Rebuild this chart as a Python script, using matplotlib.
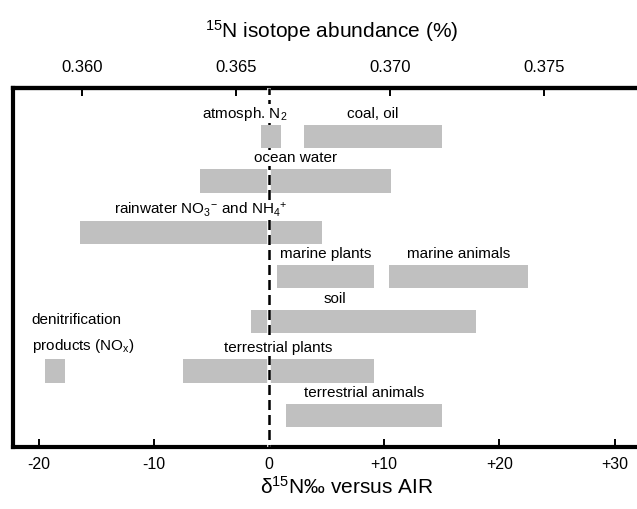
import matplotlib
matplotlib.use("Agg")
import matplotlib.pyplot as plt
import numpy as np

plt.rcParams['font.family'] = ['Liberation Sans', 'DejaVu Sans']
plt.rcParams['mathtext.fontset'] = 'custom'
plt.rcParams['mathtext.rm'] = 'Liberation Sans'
plt.rcParams['mathtext.it'] = 'Liberation Sans:italic'
plt.rcParams['mathtext.bf'] = 'Liberation Sans:bold'

# delta 15N ranges (permil vs AIR) of the nitrogen sources
sources = ["atmosph. N$_2$", "coal, oil", "ocean water",
           "rainwater NO$_3$$^{-}$ and NH$_4$$^{+}$", "marine plants", "marine animals",
           "soil", "denitrification\nproducts (NO$_\\mathrm{x}$)",
           "terrestrial plants", "terrestrial animals"]
lo = np.array([-0.7, 3.0, -6.0, -16.4, 0.7, 10.4, -1.6, -19.4, -7.5, 1.5])
hi = np.array([1.0, 15.0, 10.6, 4.6, 9.1, 22.5, 18.0, -17.7, 9.1, 15.0])
row = [0, 0, 1, 2, 3, 3, 4, 5, 5, 6]

bottom_ticks = [-20, -10, 0, 10, 20, 30]
bottom_labels = ["-20", "-10", "0", "+10", "+20", "+30"]
top_ticks = [0.360, 0.365, 0.370, 0.375]
top_labels = ["0.360", "0.365", "0.370", "0.375"]

# linear scale between delta and 15N abundance
abund_air = 0.36608
delta_per_pct = 2673.0

# layout
row_y = [1.078, 2.067, 3.211, 4.189, 5.189, 6.289, 7.278]
bar_h = 0.52
label_x = [-2.1, None, None, None, None, None, 5.7, -20.6, None, None]

fig = plt.figure(figsize=(6.37, 5.09), dpi=100)
ax = fig.add_axes([13/637, 62/509, 1.0, 359/509])

ys = [row_y[r] for r in row]
bars = ax.barh(ys, hi - lo, left=lo, height=bar_h, color='#c0c0c0', zorder=2)
bars[0].set_zorder(6)  # atmospheric N2 sits on top of the zero line

# zero line (white backing + black dashes)
ax.axvline(0, color='white', lw=2.6, zorder=3)
ax.axvline(0, color='black', lw=1.8, ls=(3, (4, 2)), zorder=4)

for i, name in enumerate(sources):
    y_top = ys[i] - bar_h / 2
    if label_x[i] is None:
        x = (lo[i] + hi[i]) / 2
        ha = 'center'
    else:
        x = label_x[i]
        ha = 'left' if '\n' in name else 'center'
    if '\n' in name:
        ax.annotate(name, (x, y_top), xytext=(0, 3), textcoords='offset points',
                    ha=ha, va='bottom', fontsize=11, linespacing=1.75,
                    zorder=5)
    else:
        ax.annotate(name, (x, y_top), xytext=(0, 8), textcoords='offset points',
                    ha=ha, va='center', fontsize=11, zorder=5,
                    bbox=dict(boxstyle='square,pad=0.05', fc='white', ec='none'))

ax.set_xlim(-22.22, 33.07)
ax.set_ylim(359/45, 0)
ax.set_yticks([])
ax.set_xticks(bottom_ticks, bottom_labels)
ax.tick_params(axis='x', direction='in', length=6, width=1.4, labelsize=11.5, pad=7)
for s in ax.spines.values():
    s.set_linewidth(3)

ax.set_xlabel("\u03b4$^{15}$N\u2030 versus AIR", fontsize=15, labelpad=3)
ax.xaxis.label.set_x((347 - 13) / 637)

sec = ax.secondary_xaxis('top', functions=(lambda d: abund_air + d / delta_per_pct,
                                           lambda a: (a - abund_air) * delta_per_pct))
sec.set_xticks(top_ticks, top_labels)
sec.tick_params(direction='in', length=6, width=1.4, labelsize=12, pad=9)
sec.spines['top'].set_linewidth(3)
sec.set_xlabel("$^{15}$N isotope abundance (%)", fontsize=15, labelpad=16)

fig.savefig("out.png", dpi=100)
